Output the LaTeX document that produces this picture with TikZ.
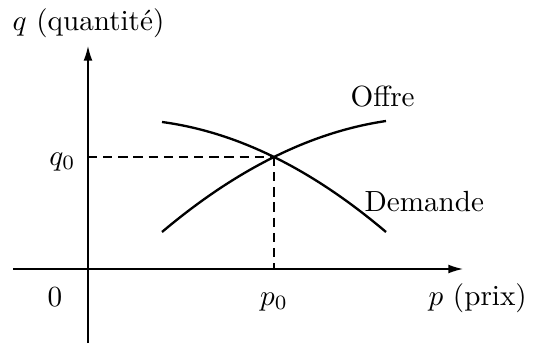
\documentclass[tikz,border=0pt]{standalone}
\usetikzlibrary{arrows.meta}
\begin{document}
\begin{tikzpicture}[x=0.343pt,y=-0.343pt,
  axis/.style={line width=0.45pt,-{Latex[length=5pt,width=3pt]}},
  curve/.style={line width=0.8pt},
  guide/.style={line width=0.5pt,dash pattern=on 3.2pt off 2pt},
  lbl/.style={inner sep=0pt}]
\useasboundingbox (0,0) rectangle (535,343);
% axes
\coordinate (xs) at (13,269);
\coordinate (xe) at (463,269);
\coordinate (ys) at (88,343);
\coordinate (ye) at (88,46);
\coordinate (E) at (274,157);
\coordinate (Eq) at (88,157);
\coordinate (Ep) at (274,269);
\draw[axis] (xs) -- (xe);
\draw[axis] (ys) -- (ye);
% guides
\draw[guide] (Eq) -- (E);
\draw[guide] (E) -- (Ep);
% curves
\coordinate (o1) at (162,232);
\coordinate (o2) at (386,121);
\coordinate (d1) at (162,122);
\coordinate (d2) at (386,232);
\draw[curve] (o1) .. controls (236.67,169) and (311.33,132) .. (o2);
\draw[curve] (d1) .. controls (236.67,132) and (311.33,168.67) .. (d2);
% labels
\node[lbl,anchor=base west] (ql) at (12,31) {$q$ (quantité)};
\node[lbl,anchor=base west] (of) at (350,106) {Offre};
\node[lbl,anchor=base west] (de) at (364,211) {Demande};
\node[lbl,anchor=base east] (q0) at (76,165) {$q_0$};
\node[lbl,anchor=base] (z) at (55,306) {$0$};
\node[lbl,anchor=base] (p0) at (274,305) {$p_0$};
\node[lbl,anchor=base west] (pl) at (428,305) {$p$ (prix)};
\end{tikzpicture}
\end{document}
